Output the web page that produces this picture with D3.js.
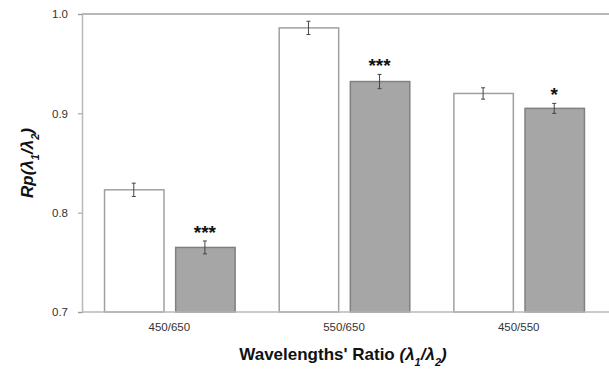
<!DOCTYPE html>
<html>
<head>
<meta charset="utf-8">
<script src="https://cdn.jsdelivr.net/npm/d3@7"></script>
<style>
body { margin: 0; background: #fff; }
svg { display: block; font-family: Arial, "Liberation Sans", sans-serif; }
</style>
</head>
<body>
<svg id="chart"></svg>
<script>
var width = 609, height = 369;
var margin = {top: 14, right: 0, bottom: 57, left: 82};

var categories = ["450/650", "550/650", "450/550"];
var series = ["control", "treated"];
var controlValues = [0.823, 0.986, 0.920];
var treatedValues = [0.765, 0.932, 0.905];
var controlErr = [0.0067, 0.0067, 0.0057];
var treatedErr = [0.0065, 0.0072, 0.0050];
var stars = ["***", "***", "*"];
var yTicks = [0.7, 0.8, 0.9, 1.0];

var svg = d3.select("#chart")
    .attr("width", width)
    .attr("height", height);

var y = d3.scaleLinear()
    .domain([0.7, 1.0])
    .range([height - margin.bottom, margin.top]);

var x0 = d3.scaleBand()
    .domain(categories)
    .range([margin.left, 606])
    .padding(0);

var x1 = d3.scaleBand()
    .domain(series)
    .range([0, x0.bandwidth()])
    .paddingInner(0.164)
    .paddingOuter(0.31);

var rows = categories.map(function(c, i) {
    return [
        {cat: c, s: "control", v: controlValues[i], e: controlErr[i], star: ""},
        {cat: c, s: "treated", v: treatedValues[i], e: treatedErr[i], star: stars[i]}
    ];
});

// top frame line
svg.append("line")
    .attr("x1", margin.left).attr("x2", width)
    .attr("y1", y(1.0)).attr("y2", y(1.0))
    .attr("stroke", "#b8b8b8").attr("stroke-width", 2);

// y axis
var yAxis = svg.append("g")
    .attr("transform", "translate(" + margin.left + ",0)")
    .call(d3.axisLeft(y).tickValues(yTicks).tickFormat(d3.format(".1f")).tickSize(4).tickPadding(10));
yAxis.select(".domain").attr("stroke", "#b8b8b8").attr("stroke-width", 1.5);
yAxis.selectAll(".tick line").attr("stroke", "#999");
yAxis.selectAll(".tick text").attr("fill", "#333").style("font-size", "11.5px");

// bars
var groups = svg.selectAll(".group")
    .data(rows)
    .enter().append("g")
    .attr("class", "group")
    .attr("transform", function(d, i) { return "translate(" + x0(categories[i]) + ",0)"; });

groups.selectAll("rect")
    .data(function(d) { return d; })
    .enter().append("rect")
    .attr("x", function(d) { return x1(d.s) + 0.5; })
    .attr("y", function(d) { return y(d.v); })
    .attr("width", x1.bandwidth())
    .attr("height", function(d) { return y(0.7) - y(d.v); })
    .attr("fill", function(d) { return d.s == "control" ? "#ffffff" : "#a6a6a6"; })
    .attr("stroke", function(d) { return d.s == "control" ? "#a0a0a0" : "#808080"; })
    .attr("stroke-width", 1.5);

// error bars
var eb = groups.selectAll(".err")
    .data(function(d) { return d; })
    .enter().append("g")
    .attr("class", "err")
    .attr("stroke", "#444")
    .attr("stroke-width", 1);
eb.append("line")
    .attr("x1", function(d) { return x1(d.s) + x1.bandwidth() / 2; })
    .attr("x2", function(d) { return x1(d.s) + x1.bandwidth() / 2; })
    .attr("y1", function(d) { return y(d.v + d.e); })
    .attr("y2", function(d) { return y(d.v - d.e); });
eb.selectAll(".cap")
    .data(function(d) { return [d.v + d.e, d.v - d.e].map(function(v) { return {s: d.s, v: v}; }); })
    .enter().append("line")
    .attr("x1", function(d) { return x1(d.s) + x1.bandwidth() / 2 - 2; })
    .attr("x2", function(d) { return x1(d.s) + x1.bandwidth() / 2 + 2; })
    .attr("y1", function(d) { return y(d.v); })
    .attr("y2", function(d) { return y(d.v); });

// significance stars
groups.selectAll(".star")
    .data(function(d) { return d.filter(function(r) { return r.star; }); })
    .enter().append("text")
    .attr("class", "star")
    .attr("x", function(d) { return x1(d.s) + x1.bandwidth() / 2; })
    .attr("y", function(d) { return y(d.v + d.e) - 2; })
    .attr("text-anchor", "middle")
    .attr("fill", "#111")
    .style("font-size", "19px")
    .style("font-weight", "bold")
    .text(function(d) { return d.star; });

// x axis
var xAxis = svg.append("g")
    .attr("transform", "translate(0," + y(0.7) + ")")
    .call(d3.axisBottom(x0).tickSize(0).tickPadding(11));
xAxis.select(".domain").remove();
xAxis.selectAll(".tick text").attr("fill", "#333").style("font-size", "11.5px");
svg.append("line")
    .attr("x1", margin.left).attr("x2", width)
    .attr("y1", y(0.7)).attr("y2", y(0.7))
    .attr("stroke", "#b8b8b8").attr("stroke-width", 1.5);

// axis titles
var xt = svg.append("text")
    .attr("x", 343).attr("y", 360)
    .attr("text-anchor", "middle")
    .attr("fill", "#111")
    .style("font-size", "17px")
    .style("font-weight", "bold");
xt.append("tspan").text("Wavelengths' Ratio ");
var xi = xt.append("tspan").style("font-style", "italic");
xi.append("tspan").text("(\u03bb");
xi.append("tspan").attr("baseline-shift", "sub").style("font-size", "11px").text("1");
xi.append("tspan").text("/\u03bb");
xi.append("tspan").attr("baseline-shift", "sub").style("font-size", "11px").text("2");
xi.append("tspan").text(")");

var yt = svg.append("text")
    .attr("transform", "translate(33,163) rotate(-90)")
    .attr("text-anchor", "middle")
    .attr("fill", "#111")
    .style("font-size", "17px")
    .style("font-weight", "bold")
    .style("font-style", "italic");
yt.append("tspan").text("Rp(\u03bb");
yt.append("tspan").attr("baseline-shift", "sub").style("font-size", "11px").text("1");
yt.append("tspan").text("/\u03bb");
yt.append("tspan").attr("baseline-shift", "sub").style("font-size", "11px").text("2");
yt.append("tspan").text(")");
</script>
</body>
</html>
